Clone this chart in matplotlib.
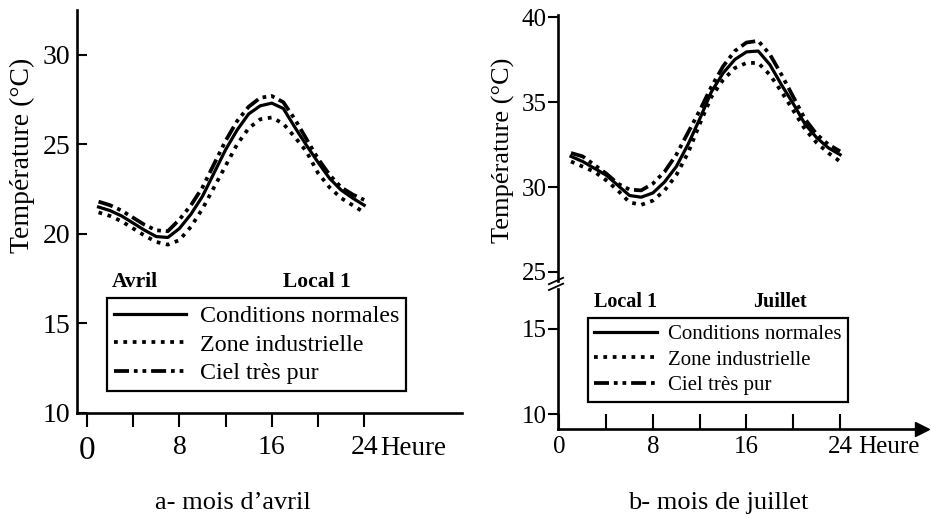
import matplotlib
matplotlib.use("Agg")
import matplotlib.pyplot as plt

plt.rcParams['font.family'] = ['Liberation Serif', 'DejaVu Serif']

# ---------------- data ----------------
hours = list(range(1, 25))

avril_normal = [21.5, 21.3, 21.0, 20.6, 20.2, 19.85, 19.8, 20.3, 21.1, 22.1, 23.4, 24.7,
                25.8, 26.7, 27.15, 27.3, 27.0, 25.95, 24.95, 24.0, 23.1, 22.45, 22.0, 21.6]
avril_industrielle = [21.2, 21.0, 20.7, 20.3, 19.9, 19.55, 19.4, 19.65, 20.4, 21.4, 22.6, 23.8,
                      25.0, 25.9, 26.4, 26.5, 26.15, 25.4, 24.6, 23.4, 22.6, 22.0, 21.6, 21.2]
avril_ciel = [21.8, 21.6, 21.3, 20.9, 20.5, 20.2, 20.15, 20.8, 21.6, 22.6, 23.9, 25.2,
              26.3, 27.1, 27.6, 27.7, 27.35, 26.4, 25.3, 24.2, 23.3, 22.6, 22.2, 21.9]

juillet_normal = [31.8, 31.5, 31.1, 30.7, 30.1, 29.5, 29.4, 29.65, 30.3, 31.2, 32.5, 34.0,
                  35.6, 36.7, 37.5, 37.95, 38.0, 37.2, 36.0, 34.9, 33.7, 32.9, 32.3, 31.9]
juillet_industrielle = [31.5, 31.2, 30.9, 30.4, 29.8, 29.1, 28.95, 29.2, 29.8, 30.7, 32.0, 33.7,
                        35.3, 36.3, 37.0, 37.3, 37.3, 36.6, 35.6, 34.5, 33.4, 32.6, 32.0, 31.5]
juillet_ciel = [32.0, 31.8, 31.3, 30.8, 30.2, 29.85, 29.8, 30.2, 30.9, 31.9, 33.2, 34.5,
                35.9, 37.1, 38.0, 38.5, 38.6, 37.8, 36.6, 35.3, 34.0, 33.1, 32.5, 32.1]

series_labels = ["Conditions normales", "Zone industrielle", "Ciel très pur"]
x_ticks = [0, 4, 8, 12, 16, 20, 24]
x_tick_labels = ["0", "", "8", "", "16", "", "24"]
avril_yticks = [10, 15, 20, 25, 30]
juillet_yticks_upper = [25, 30, 35, 40]
juillet_yticks_lower = [10, 15]

# ---------------- layout ----------------
W, H = 931, 517
fig = plt.figure(figsize=(W / 100, H / 100), dpi=100)


def px(l, t, r, b):
    return [l / W, 1 - b / H, (r - l) / W, (b - t) / H]


styles = [
    dict(color='black', lw=2.3, ls='-'),
    dict(color='black', lw=2.7, ls=(0, (1, 1.5))),
    dict(color='black', lw=2.7, ls=(0, (4, 1.3, 1, 1.3, 1, 1.3))),
]
SPW = 1.9

# ---------------- panel a ----------------
axA = fig.add_axes(px(77, 10, 462, 413))
linesA = []
for vals, st, lab in zip([avril_normal, avril_industrielle, avril_ciel], styles, series_labels):
    ln, = axA.plot(hours, vals, label=lab, **st)
    linesA.append(ln)
axA.set_xlim(-0.866, 32.47)
axA.set_ylim(10, 32.5)
for s in ['top', 'right']:
    axA.spines[s].set_visible(False)
for s in ['left', 'bottom']:
    axA.spines[s].set_linewidth(SPW)
axA.set_yticks(avril_yticks)
axA.tick_params(axis='y', direction='in', length=7, width=1.5, labelsize=20, pad=5)
axA.set_xticks(x_ticks)
axA.set_xticklabels(x_tick_labels)
axA.tick_params(axis='x', direction='out', length=10, width=1.5, labelsize=20, pad=6)
axA.get_xticklabels()[0].set_fontsize(24)
axA.set_ylabel("Température (°C)", fontsize=20, va='center')
axA.yaxis.set_label_coords(-0.143, 0.64)
axA.text(25.4, -0.104, "Heure", transform=axA.get_xaxis_transform(),
         fontsize=19.5, ha='left', va='baseline')
axA.text(0.091, 0.325, "Avril", transform=axA.transAxes, fontsize=15.5,
         fontweight='bold', ha='left', va='center')
axA.text(0.535, 0.325, "Local 1", transform=axA.transAxes, fontsize=15.5,
         fontweight='bold', ha='left', va='center')
legA = axA.legend(handles=linesA, loc='upper left', bbox_to_anchor=(0.078, 0.285),
                  borderaxespad=0, fontsize=17.3, frameon=True, fancybox=False,
                  edgecolor='black', framealpha=1, handlelength=3.0,
                  handletextpad=0.55, labelspacing=0.28, borderpad=0.3)
legA.get_frame().set_linewidth(1.6)

# ---------------- panel b ----------------
axU = fig.add_axes(px(558, 15, 922, 281))
axL = fig.add_axes(px(558, 289, 922, 429))
linesB = []
for vals, st, lab in zip([juillet_normal, juillet_industrielle, juillet_ciel], styles, series_labels):
    ln, = axU.plot(hours, vals, label=lab, **st)
    linesB.append(ln)
for ax in (axU, axL):
    ax.set_xlim(-0.11, 31.0)
    for s in ['top', 'right']:
        ax.spines[s].set_visible(False)
    ax.spines['left'].set_linewidth(SPW)
    ax.tick_params(axis='y', direction='out', length=7, width=1.5, labelsize=18, pad=1)
axU.set_ylim(24.47, 40.12)
axL.set_ylim(9.12, 17.35)
axU.spines['bottom'].set_visible(False)
axU.set_xticks([])
axU.set_yticks(juillet_yticks_upper)
axL.set_yticks(juillet_yticks_lower)
axL.spines['bottom'].set_linewidth(SPW)
axL.set_xticks(x_ticks)
axL.set_xticklabels(x_tick_labels)
axL.tick_params(axis='x', direction='in', length=11, width=1.5, labelsize=18, pad=5)
axL.plot(1, 0, marker='>', color='black', ms=10, transform=axL.transAxes, clip_on=False)
axU.set_ylabel("Température (°C)", fontsize=19, va='center')
axU.yaxis.set_label_coords(-0.151, 0.4925)
axL.text(25.55, -0.171, "Heure", transform=axL.get_xaxis_transform(),
         fontsize=18, ha='left', va='baseline')
axL.text(0.099, 0.907, "Local 1", transform=axL.transAxes, fontsize=14.5,
         fontweight='bold', ha='left', va='center')
axL.text(0.536, 0.907, "Juillet", transform=axL.transAxes, fontsize=14.5,
         fontweight='bold', ha='left', va='center')
legB = axL.legend(handles=linesB, loc='upper left', bbox_to_anchor=(0.0824, 0.793),
                  borderaxespad=0, fontsize=15, frameon=True, fancybox=False,
                  edgecolor='black', framealpha=1, handlelength=3.0,
                  handletextpad=0.55, labelspacing=0.3, borderpad=0.3)
legB.get_frame().set_linewidth(1.6)

# axis break marks
for dy in (0.0, -0.022):
    axU.plot([-0.025, 0.014], [-0.012 + dy, 0.012 + dy], color='black', lw=1.3,
             transform=axU.transAxes, clip_on=False)

# ---------------- captions ----------------
fig.text(233 / W, 1 - 503 / H, "a- mois d’avril", ha='center', va='center', fontsize=19)
fig.text(718 / W, 1 - 503 / H, "b- mois de juillet", ha='center', va='center', fontsize=19)

fig.savefig("out.png", dpi=100)
